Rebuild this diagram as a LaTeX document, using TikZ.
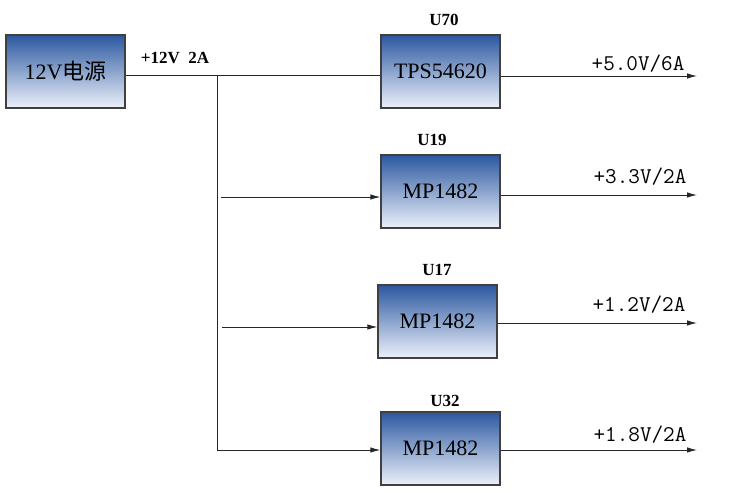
\documentclass[tikz,border=0pt]{standalone}
\usepackage{fontspec}
\setmainfont{Liberation Serif}
\newfontfamily\cjk{Noto Sans CJK SC}
\usetikzlibrary{arrows.meta}
\begin{document}
\begin{tikzpicture}[x=1pt,y=-1pt,
  blk/.style={draw=black!75,line width=1.3pt,minimum width=119pt,minimum height=73pt,inner sep=0pt,
    top color={rgb,255:red,44;green,88;blue,160},bottom color={rgb,255:red,236;green,241;blue,250},
    font=\fontsize{22}{24}\selectfont},
  ulab/.style={font=\bfseries\fontsize{17}{19}\selectfont},
  olab/.style={font=\ttfamily\fontsize{22.5}{24}\selectfont},
  wire/.style={line width=0.9pt,draw=black!85},
  arr/.style={wire,-{Latex[length=10pt,width=5.5pt]}}]
\useasboundingbox (0,0) rectangle (740,493);
\node[blk] (psu) at (65.5,71.5) {12V{\cjk 电源}};
\node[blk] (u70) at (440.5,71.5) {TPS54620};
\node[blk] (u19) at (440.5,191.5) {MP1482};
\node[blk] (u17) at (437.5,321.5) {MP1482};
\node[blk] (u32) at (440.5,448.5) {MP1482};
\node[ulab] (l70) at (444,20) {U70};
\node[ulab] (l19) at (432,140) {U19};
\node[ulab] (l17) at (437,270) {U17};
\node[ulab] (l32) at (445,401) {U32};
\node[font=\bfseries\fontsize{17}{19}\selectfont] (lin) at (175,58) {+12V\ \ 2A};
\coordinate (jt) at (217,75);
\coordinate (b19) at (221,197);
\coordinate (b17) at (222,327);
\coordinate (o70) at (697,76);
\coordinate (o19) at (697,195);
\coordinate (o17) at (697,323);
\coordinate (o32) at (697,450);
\draw[wire] (psu.east |- jt) -- (u70.west |- jt);
\draw[arr] (jt) |- (u32.west |- o32);
\draw[arr] (b19) -- (u19.west |- b19);
\draw[arr] (b17) -- (u17.west |- b17);
\draw[arr] (u70.east |- o70) -- (o70);
\draw[arr] (u19.east |- o19) -- (o19);
\draw[arr] (u17.east |- o17) -- (o17);
\draw[arr] (u32.east |- o32) -- (o32);
\node[olab] (t70) at (638,64) {+5.0V/6A};
\node[olab] (t19) at (640,177) {+3.3V/2A};
\node[olab] (t17) at (639,305) {+1.2V/2A};
\node[olab] (t32) at (640,435) {+1.8V/2A};
\end{tikzpicture}
\end{document}
